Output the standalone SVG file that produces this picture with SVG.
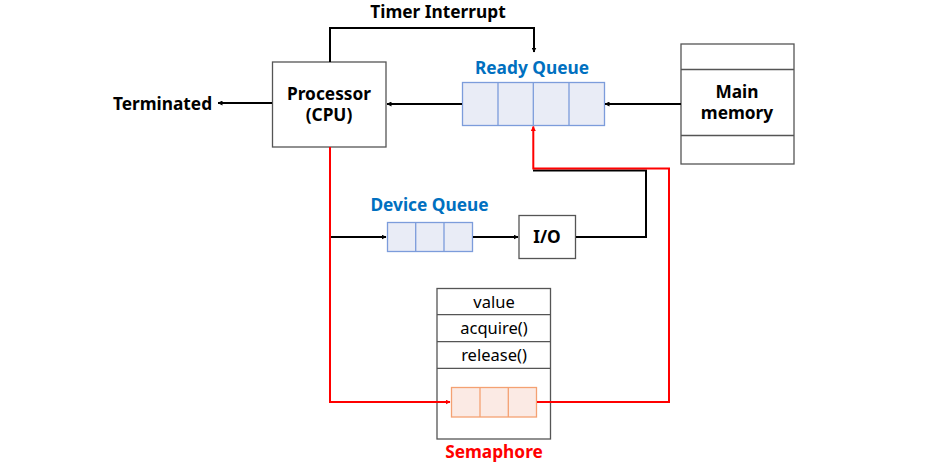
<svg xmlns="http://www.w3.org/2000/svg" width="950" height="462" viewBox="0 0 950 462">
<defs>
<marker id="ab" viewBox="0 0 10 10" refX="9" refY="5" markerWidth="5" markerHeight="5" orient="auto" markerUnits="userSpaceOnUse">
<path d="M0,0 L10,5 L0,10 z" fill="#000"/>
</marker>
<marker id="ar" viewBox="0 0 10 10" refX="9" refY="5" markerWidth="5" markerHeight="5" orient="auto" markerUnits="userSpaceOnUse">
<path d="M0,0 L10,5 L0,10 z" fill="#ff0000"/>
</marker>
<style>
text{font-family:"Noto Sans","Open Sans","DejaVu Sans",sans-serif;font-size:17.3px;text-anchor:middle;fill:#000;}
.b{font-weight:bold;}
.s{font-size:16.5px;}
.box{fill:#fff;stroke:#555;stroke-width:1.3;}
.rq{fill:#E9ECF6;stroke:#7C9CDB;stroke-width:1.3;}
.oq{fill:#FBEAE4;stroke:#F4A172;stroke-width:1.3;}
.bl{fill:none;stroke:#000;stroke-width:2;}
.rd{fill:none;stroke:#ff0000;stroke-width:2;}
.blue{fill:#0070C0;font-weight:bold;}
.red{fill:#ff0000;font-weight:bold;}
</style>
</defs>
<rect width="950" height="462" fill="#fff"/>

<g id="timer-label"><text class="b" x="438" y="18">Timer Interrupt</text></g>

<g id="processor">
<rect class="box" x="272.5" y="62" width="113.5" height="85"/>
<text class="b" x="329" y="100">Processor<tspan x="329" dy="20.8">(CPU)</tspan></text>
</g>

<g id="terminated"><text class="b" x="162.5" y="110">Terminated</text></g>

<g id="ready-queue">
<text class="blue" x="532" y="74">Ready Queue</text>
<rect class="rq" x="462.5" y="82.5" width="142" height="43"/>
<line class="rq" x1="498" y1="82.5" x2="498" y2="125.5"/>
<line class="rq" x1="533.3" y1="82.5" x2="533.3" y2="125.5"/>
<line class="rq" x1="569" y1="82.5" x2="569" y2="125.5"/>
</g>

<g id="main-memory">
<rect class="box" x="681" y="44" width="113" height="120"/>
<line class="box" x1="681" y1="69.5" x2="794" y2="69.5"/>
<line class="box" x1="681" y1="135.5" x2="794" y2="135.5"/>
<text class="b" x="737" y="98">Main<tspan x="737" dy="20.8">memory</tspan></text>
</g>

<g id="device-queue">
<text class="blue" x="429.5" y="211">Device Queue</text>
<rect class="rq" x="387.5" y="222.5" width="85" height="29"/>
<line class="rq" x1="415.7" y1="222.5" x2="415.7" y2="251.5"/>
<line class="rq" x1="444" y1="222.5" x2="444" y2="251.5"/>
</g>

<g id="io">
<rect class="box" x="519" y="215.5" width="56.5" height="43"/>
<text class="b" x="547" y="243">I/O</text>
</g>

<g id="semaphore">
<rect class="box" x="437" y="288.5" width="113.5" height="150.5"/>
<line class="box" x1="437" y1="314.7" x2="550.5" y2="314.7"/>
<line class="box" x1="437" y1="341.7" x2="550.5" y2="341.7"/>
<line class="box" x1="437" y1="368.3" x2="550.5" y2="368.3"/>
<text class="s" x="494" y="307.5">value</text>
<text class="s" x="494" y="334">acquire()</text>
<text class="s" x="494" y="360.5">release()</text>
<rect class="oq" x="451.5" y="387.5" width="85" height="29.5"/>
<line class="oq" x1="480" y1="387.5" x2="480" y2="417"/>
<line class="oq" x1="508.3" y1="387.5" x2="508.3" y2="417"/>
<text class="red" x="494" y="458">Semaphore</text>
</g>

<g id="connectors">
<path class="bl" d="M330,62 V28 H534 V52" marker-end="url(#ab)"/>
<path class="bl" d="M462,104 H387" marker-end="url(#ab)"/>
<path class="bl" d="M681,104 H605" marker-end="url(#ab)"/>
<path class="bl" d="M272,103 H218" marker-end="url(#ab)"/>
<path class="bl" d="M330,237 H386" marker-end="url(#ab)"/>
<path class="bl" d="M473,237 H518" marker-end="url(#ab)"/>
<path class="bl" d="M576,237 H646 V170.5 H533"/>
<path class="rd" d="M330,147 V402 H450" marker-end="url(#ar)"/>
<path class="rd" d="M537,402 H669 V168.5 H533.3 V126.5" marker-end="url(#ar)"/>
</g>
</svg>
